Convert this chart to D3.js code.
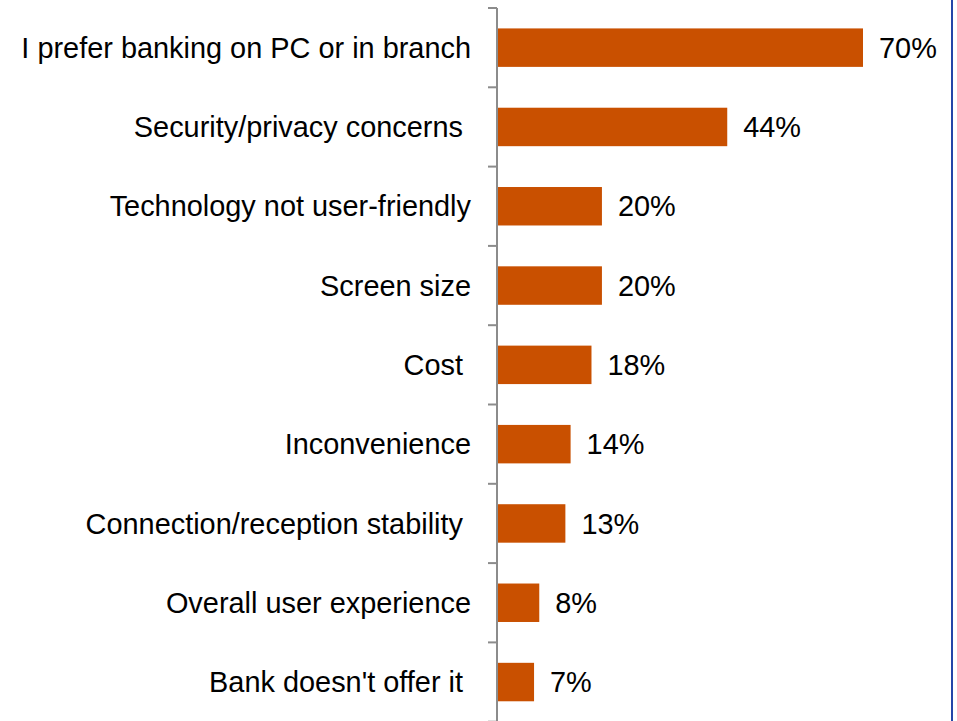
<!DOCTYPE html>
<html>
<head>
<meta charset="utf-8">
<script src="https://cdn.jsdelivr.net/npm/d3@7"></script>
<style>
  html, body { margin: 0; padding: 0; background: #ffffff; }
  svg { display: block; }
  text { font-family: Arial, "Liberation Sans", sans-serif; fill: #000; }
</style>
</head>
<body>
<svg id="chart" width="957" height="721"></svg>
<script>
// Reasons for not using mobile banking (share of respondents, %)
const categories = [
  "I prefer banking on PC or in branch",
  "Security/privacy concerns ",
  "Technology not user-friendly",
  "Screen size",
  "Cost ",
  "Inconvenience",
  "Connection/reception stability ",
  "Overall user experience",
  "Bank doesn't offer it "
];
const values = [70, 44, 20, 20, 18, 14, 13, 8, 7];
const valueLabels = ["70%", "44%", "20%", "20%", "18%", "14%", "13%", "8%", "7%"];

const svg = d3.select("#chart");
const axisX = 497.5;
const fontSize = 28.9;

const y = d3.scaleBand()
  .domain(categories)
  .range([8, 8 + 9 * 79.3])
  .paddingInner(0.515)
  .paddingOuter(0.2575);

const x = d3.scaleLinear()
  .domain([0, 70])
  .range([axisX, 863]);

// bars
svg.append("g")
  .selectAll("rect")
  .data(categories)
  .join("rect")
  .attr("x", x(0))
  .attr("y", d => y(d))
  .attr("width", (d, i) => x(values[i]) - x(0))
  .attr("height", y.bandwidth())
  .attr("fill", "#c95000");

// category axis: vertical line with ticks between bands
const step = y.step();
const r0 = y.range()[0];
const tickYs = d3.range(categories.length + 1).map(i => r0 + i * step);
const axis = svg.append("g").attr("stroke", "#8c8c8c").attr("stroke-width", 2);
axis.append("line")
  .attr("x1", axisX - 0.5).attr("x2", axisX - 0.5)
  .attr("y1", r0).attr("y2", 730);
axis.selectAll("line.tick")
  .data(tickYs)
  .join("line")
  .attr("class", "tick")
  .attr("x1", axisX - 9.5).attr("x2", axisX - 0.5)
  .attr("y1", d => d).attr("y2", d => d);

// category labels
svg.append("g")
  .selectAll("text")
  .data(categories)
  .join("text")
  .attr("x", 471)
  .attr("y", d => y(d) + y.bandwidth() / 2)
  .attr("dy", "0.35em")
  .attr("text-anchor", "end")
  .style("white-space", "pre")
  .style("font-size", fontSize + "px")
  .text(d => d);

// value labels
svg.append("g")
  .selectAll("text")
  .data(categories)
  .join("text")
  .attr("x", (d, i) => x(values[i]) + 16)
  .attr("y", d => y(d) + y.bandwidth() / 2)
  .attr("dy", "0.35em")
  .style("font-size", fontSize + "px")
  .text((d, i) => valueLabels[i]);

// right frame edge
svg.append("line")
  .attr("x1", 952).attr("x2", 952)
  .attr("y1", 0).attr("y2", 721)
  .attr("stroke", "#2446a8")
  .attr("stroke-width", 2);
</script>
</body>
</html>
